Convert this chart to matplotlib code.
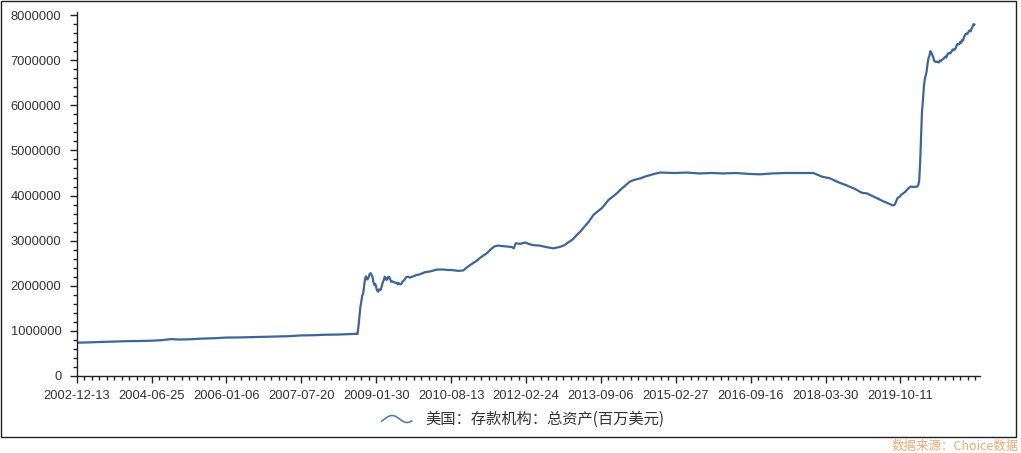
import numpy as np
import pandas as pd
import matplotlib
matplotlib.use("Agg")
import matplotlib.pyplot as plt
from matplotlib.lines import Line2D
from matplotlib.patches import Rectangle
from matplotlib.ticker import FixedLocator, StrMethodFormatter, MultipleLocator

# weekly total assets (millions of USD)
dates = [
    "2002-12-13", "2003-03-14", "2003-06-13", "2003-09-12", "2003-12-12",
    "2004-03-12", "2004-06-25", "2004-09-10", "2004-11-19", "2005-01-14",
    "2005-04-15", "2005-07-15", "2005-10-14", "2006-01-06", "2006-04-14",
    "2006-07-14", "2006-10-13", "2007-01-12", "2007-04-13", "2007-07-20",
    "2007-10-12", "2008-01-11", "2008-04-11", "2008-07-11", "2008-09-05",
    "2008-09-12", "2008-09-19", "2008-09-26", "2008-10-03", "2008-10-10",
    "2008-10-17", "2008-10-24", "2008-10-31", "2008-11-07", "2008-11-14",
    "2008-11-21", "2008-11-28", "2008-12-05", "2008-12-12", "2008-12-19",
    "2008-12-26", "2009-01-02", "2009-01-09", "2009-01-16", "2009-01-23",
    "2009-01-30", "2009-02-06", "2009-02-13", "2009-02-20", "2009-02-27",
    "2009-03-06", "2009-03-13", "2009-03-20", "2009-03-27", "2009-04-03",
    "2009-04-10", "2009-04-17", "2009-04-24", "2009-05-01", "2009-05-08",
    "2009-05-15", "2009-05-22", "2009-05-29", "2009-06-05", "2009-06-12",
    "2009-06-19", "2009-06-26", "2009-07-03", "2009-07-10", "2009-07-17",
    "2009-07-24", "2009-07-31", "2009-08-07", "2009-08-14", "2009-08-28",
    "2009-09-11", "2009-09-25", "2009-10-09", "2009-10-23", "2009-11-06",
    "2009-11-27", "2009-12-18", "2010-01-29", "2010-03-12", "2010-04-30",
    "2010-06-18", "2010-07-16", "2010-08-13", "2010-10-08", "2010-11-12",
    "2010-12-10", "2011-01-07", "2011-02-18", "2011-03-18", "2011-04-15",
    "2011-05-06", "2011-06-03", "2011-06-30", "2011-07-29", "2011-09-02",
    "2011-10-07", "2011-11-09", "2011-11-25", "2011-12-09", "2012-01-13",
    "2012-02-17", "2012-03-23", "2012-04-20", "2012-06-08", "2012-07-20",
    "2012-09-14", "2012-10-19", "2012-11-02", "2012-12-07", "2013-01-04",
    "2013-02-08", "2013-03-08", "2013-04-05", "2013-05-03", "2013-06-07",
    "2013-07-12", "2013-08-09", "2013-09-13", "2013-10-11", "2013-11-01",
    "2013-12-06", "2014-01-03", "2014-02-07", "2014-03-07", "2014-04-11",
    "2014-05-16", "2014-06-27", "2014-08-01", "2014-09-05", "2014-10-10",
    "2014-11-21", "2015-03-13", "2015-06-12", "2015-09-11", "2015-12-11",
    "2016-03-11", "2016-06-10", "2016-09-16", "2016-12-09", "2017-03-10",
    "2017-06-09", "2017-09-08", "2017-12-08", "2018-01-12", "2018-03-16",
    "2018-05-18", "2018-07-13", "2018-09-14", "2018-11-16", "2019-01-11",
    "2019-02-15", "2019-04-12", "2019-06-14", "2019-08-30", "2019-09-13",
    "2019-09-20", "2019-10-04", "2019-10-18", "2019-11-01", "2019-11-29",
    "2019-12-20", "2020-01-10", "2020-02-07", "2020-02-28", "2020-03-06",
    "2020-03-13", "2020-03-20", "2020-03-27", "2020-04-03", "2020-04-10",
    "2020-04-17", "2020-04-24", "2020-05-01", "2020-05-08", "2020-05-15",
    "2020-05-22", "2020-05-29", "2020-06-05", "2020-06-12", "2020-06-19",
    "2020-06-26", "2020-07-03", "2020-07-10", "2020-07-17", "2020-07-24",
    "2020-07-31", "2020-08-07", "2020-08-14", "2020-08-21", "2020-08-28",
    "2020-09-04", "2020-09-11", "2020-09-18", "2020-09-25", "2020-10-02",
    "2020-10-09", "2020-10-16", "2020-10-23", "2020-10-30", "2020-11-06",
    "2020-11-13", "2020-11-20", "2020-11-27", "2020-12-04", "2020-12-11",
    "2020-12-18", "2020-12-25", "2021-01-01", "2021-01-08", "2021-01-15",
    "2021-01-22", "2021-01-29", "2021-02-05", "2021-02-12", "2021-02-19",
    "2021-02-26", "2021-03-05", "2021-03-12", "2021-03-19", "2021-03-26",
    "2021-04-02", "2021-04-09", "2021-04-16", "2021-04-23", "2021-04-30",
]
assets = [
    738000, 745000, 755000, 762000, 772000,
    775000, 782000, 795000, 818000, 808000,
    815000, 830000, 838000, 852000, 855000,
    862000, 868000, 878000, 882000, 900000,
    903000, 915000, 918000, 930000, 935000,
    932000, 1100000, 1300000, 1520000, 1640000,
    1780000, 1820000, 1990000, 2150000, 2210000,
    2140000, 2150000, 2200000, 2260000, 2280000,
    2240000, 2200000, 2080000, 2020000, 2040000,
    1960000, 1890000, 1870000, 1920000, 1900000,
    1920000, 2000000, 2080000, 2120000, 2200000,
    2180000, 2130000, 2150000, 2200000, 2190000,
    2140000, 2090000, 2100000, 2090000, 2080000,
    2070000, 2060000, 2070000, 2030000, 2060000,
    2040000, 2030000, 2050000, 2090000, 2130000,
    2190000, 2200000, 2180000, 2200000, 2210000,
    2240000, 2250000, 2300000, 2320000, 2360000,
    2360000, 2350000, 2350000, 2330000, 2340000,
    2410000, 2470000, 2550000, 2620000, 2680000,
    2720000, 2800000, 2870000, 2890000, 2880000,
    2870000, 2860000, 2830000, 2940000, 2930000,
    2960000, 2920000, 2900000, 2890000, 2860000,
    2830000, 2850000, 2860000, 2900000, 2960000,
    3030000, 3120000, 3200000, 3300000, 3420000,
    3570000, 3640000, 3720000, 3820000, 3900000,
    3980000, 4050000, 4150000, 4220000, 4310000,
    4350000, 4380000, 4420000, 4450000, 4480000,
    4510000, 4500000, 4510000, 4490000, 4500000,
    4490000, 4500000, 4480000, 4470000, 4490000,
    4500000, 4500000, 4500000, 4500000, 4420000,
    4380000, 4300000, 4230000, 4150000, 4060000,
    4050000, 3970000, 3880000, 3780000, 3800000,
    3850000, 3950000, 3970000, 4020000, 4080000,
    4150000, 4200000, 4190000, 4200000, 4230000,
    4320000, 4700000, 5300000, 5850000, 6100000,
    6400000, 6580000, 6660000, 6750000, 6930000,
    7050000, 7100000, 7200000, 7170000, 7120000,
    7070000, 6990000, 6970000, 6960000, 6970000,
    6960000, 6950000, 6990000, 6980000, 7000000,
    7020000, 7030000, 7060000, 7080000, 7060000,
    7120000, 7150000, 7160000, 7150000, 7170000,
    7210000, 7240000, 7220000, 7250000, 7260000,
    7330000, 7360000, 7350000, 7360000, 7410000,
    7390000, 7450000, 7440000, 7520000, 7550000,
    7590000, 7580000, 7600000, 7640000, 7660000,
    7640000, 7700000, 7740000, 7800000, 7790000,
]
tick_labels = [
    "2002-12-13", "2004-06-25", "2006-01-06", "2007-07-20",
    "2009-01-30", "2010-08-13", "2012-02-24", "2013-09-06",
    "2015-02-27", "2016-09-16", "2018-03-30", "2019-10-11",
]
series_name = "美国：存款机构：总资产(百万美元)"
source_note = "数据来源：Choice数据"

W, H = 1021, 453
LINE_COLOR = "#3f6597"
TEXT_COLOR = "#333333"
CJK = ["Noto Sans CJK SC", "DejaVu Sans"]

plt.rcParams["font.family"] = ["Liberation Sans", "DejaVu Sans"]

fig = plt.figure(figsize=(W / 100, H / 100), dpi=100)
ax = fig.add_axes([76.7 / W, (H - 376) / H, (980 - 76.7) / W, (376 - 11.5) / H])

x = pd.to_datetime(dates)
ax.plot(x, assets, color=LINE_COLOR, lw=1.6, solid_joinstyle="round")

# axis range; labels sit every 80 points (evenly spaced), minor every 8
x0 = pd.Timestamp(tick_labels[0])
x1 = x0 + pd.Timedelta(weeks=965)
ax.set_xlim(x0, x1)
ax.set_ylim(0, 8.08e6)

major = [x0 + pd.Timedelta(weeks=80 * i) for i in range(len(tick_labels))]
minor = pd.date_range(x0, x1, freq="56D")
ax.set_xticks(major)
ax.set_xticklabels(tick_labels)
ax.xaxis.set_minor_locator(FixedLocator(matplotlib.dates.date2num(minor)))

ax.yaxis.set_major_locator(MultipleLocator(1e6))
ax.yaxis.set_minor_locator(MultipleLocator(2e5))
ax.yaxis.set_major_formatter(StrMethodFormatter("{x:.0f}"))

for s in ["top", "right"]:
    ax.spines[s].set_visible(False)
for s in ["left", "bottom"]:
    ax.spines[s].set_color("#222222")
    ax.spines[s].set_linewidth(1.0)

ax.tick_params(axis="both", which="major", length=5, width=1, color="#222222",
               labelsize=9.3, labelcolor=TEXT_COLOR)
ax.tick_params(axis="both", which="minor", length=3, width=1, color="#222222")
ax.tick_params(axis="y", which="major", pad=6)
ax.tick_params(axis="x", which="major", pad=5)

# legend: wavy line sample + label
wx = np.linspace(381.7, 411.7, 60)
wy = 419 - 3.5 * np.sin((wx - 381.7) / 30 * 2 * np.pi - 0.6)
fig.add_artist(Line2D(wx / W, (H - wy) / H, transform=fig.transFigure,
                      color="#5a7cab", lw=1.2))
fig.text(425 / W, (H - 419) / H, series_name, fontsize=11, family=CJK,
         color=TEXT_COLOR, ha="left", va="center")

# outer frame and source note
fig.add_artist(Rectangle((0.5 / W, 16 / H), 1015.5 / W, 436.5 / H,
                         transform=fig.transFigure, fill=False,
                         ec="#222222", lw=1.0))
fig.text(1019 / W, (H - 446) / H, source_note, fontsize=9, family=CJK,
         color="#f0a878", ha="right", va="center")

fig.savefig("out.png", dpi=100)
